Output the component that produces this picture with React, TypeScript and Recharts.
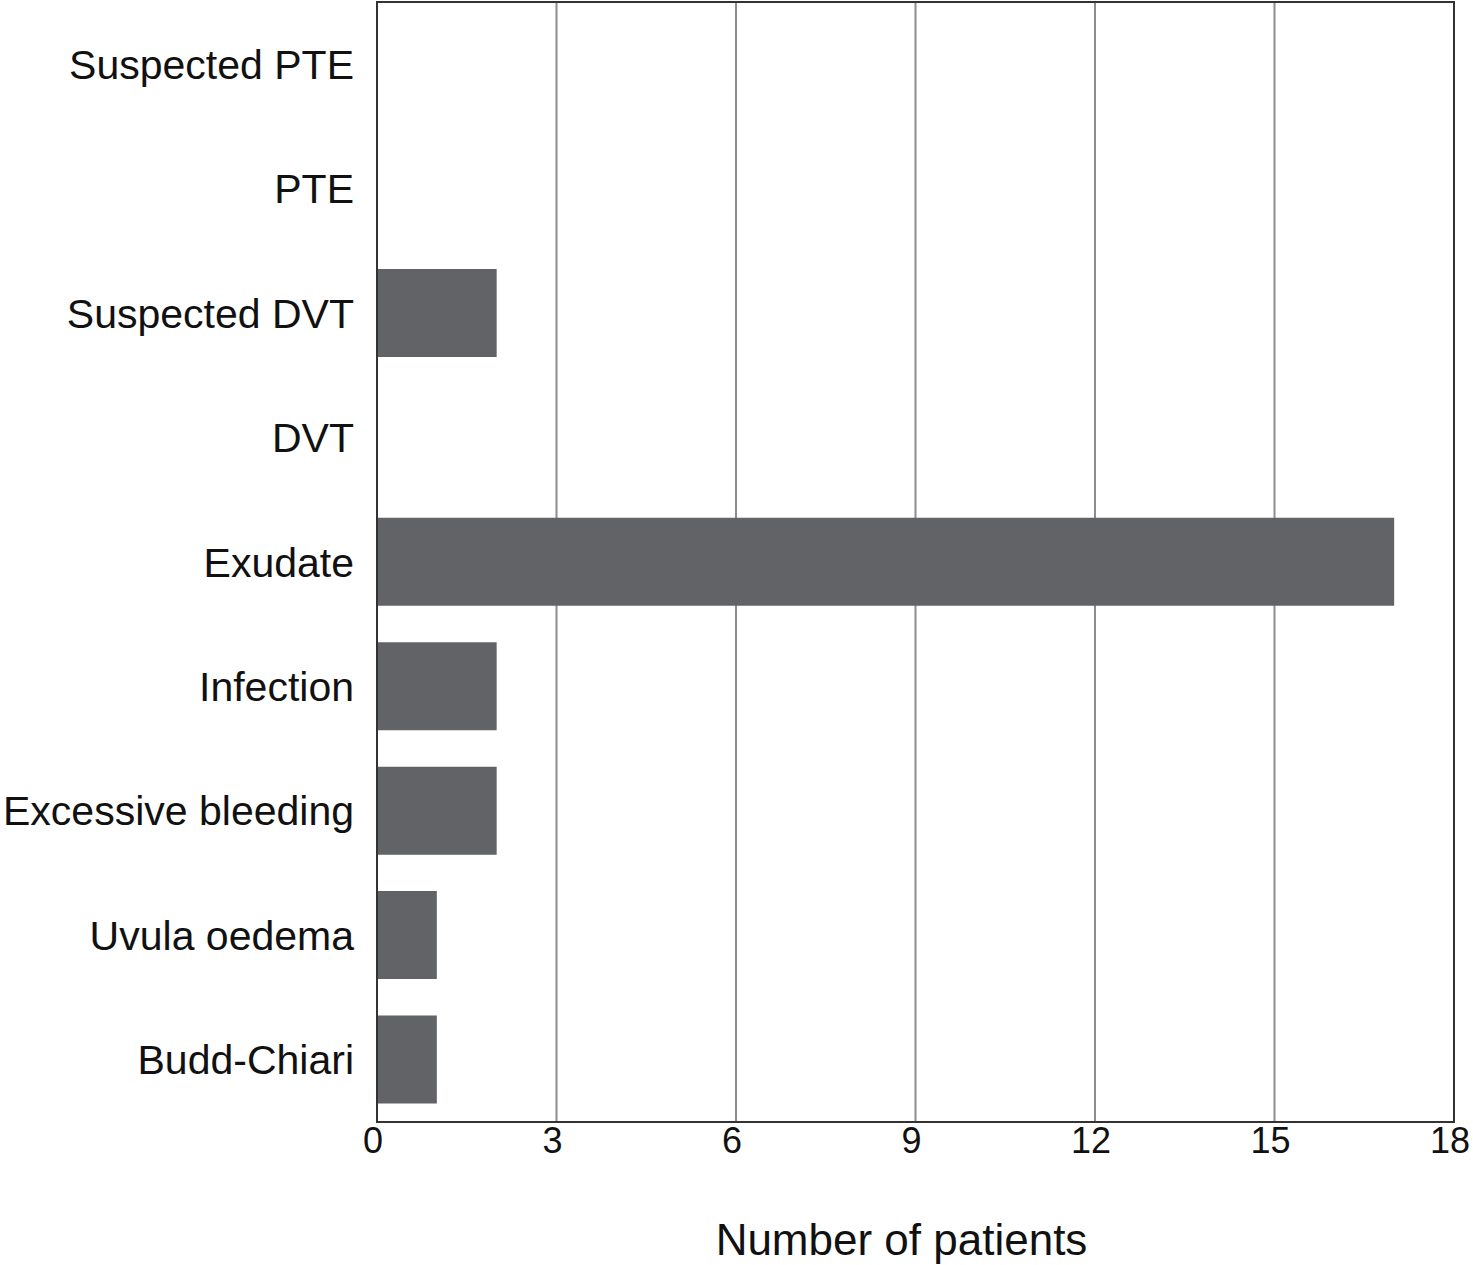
import { BarChart, Bar, XAxis, YAxis, CartesianGrid, ReferenceArea } from 'recharts'

const categories = [
  'Suspected PTE',
  'PTE',
  'Suspected DVT',
  'DVT',
  'Exudate',
  'Infection',
  'Excessive bleeding',
  'Uvula oedema',
  'Budd-Chiari',
]
const patients = [0, 0, 2, 0, 17, 2, 2, 1, 1]
const xTicks = [0, 3, 6, 9, 12, 15, 18]

const data = categories.map((name, i) => ({ name, patients: patients[i] }))

const font = 'Liberation Sans, Arial, Helvetica, sans-serif'

export default function App() {
  return (
    <div style={{ position: 'absolute', left: 0, top: 0, background: '#fff', fontFamily: font }}>
      <BarChart
        width={1473}
        height={1265}
        data={data}
        layout="vertical"
        margin={{ top: 2, right: 19, left: 0, bottom: 0 }}
        barCategoryGap="0%"
      >
        <CartesianGrid horizontal={false} vertical stroke="#8c8c8c" strokeWidth={2} />
        <XAxis
          type="number"
          dataKey="patients"
          domain={[0, 18]}
          ticks={xTicks}
          tickLine={false}
          tickSize={0}
          tickMargin={5}
          axisLine={{ stroke: '#333', strokeWidth: 2 }}
          tick={{ fontSize: 36, fill: '#111', fontFamily: font, dx: -4 }}
          height={143}
          label={{
            value: 'Number of patients',
            position: 'insideBottom',
            offset: 10,
            fontSize: 44,
            fill: '#111',
            fontFamily: font,
            dx: -14,
          }}
        />
        <YAxis
          type="category"
          dataKey="name"
          width={377}
          tickLine={false}
          tickSize={0}
          tickMargin={23}
          axisLine={{ stroke: '#333', strokeWidth: 2 }}
          tick={{ fontSize: 41, fill: '#111', fontFamily: font }}
          interval={0}
        />
        <ReferenceArea x1={0} x2={18} fill="none" stroke="#333" strokeWidth={2} fillOpacity={0} ifOverflow="visible" />
        <Bar dataKey="patients" fill="#626367" barSize={88} isAnimationActive={false} />
      </BarChart>
    </div>
  )
}
